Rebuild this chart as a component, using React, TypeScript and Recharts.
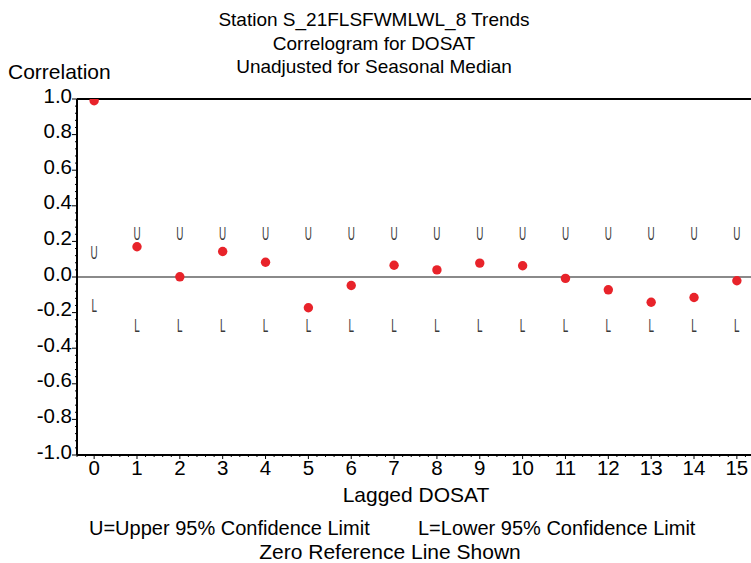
import React from 'react';
import { ScatterChart, Scatter, XAxis, YAxis, ReferenceLine } from 'recharts';

// ---- data ----
const lags = [0, 1, 2, 3, 4, 5, 6, 7, 8, 9, 10, 11, 12, 13, 14, 15];
const correlations = [0.99, 0.17, 0.001, 0.143, 0.083, -0.173, -0.048, 0.066, 0.04, 0.078, 0.063, -0.008, -0.072, -0.142, -0.115, -0.021];
const upperLimits = [0.136, 0.245, 0.245, 0.245, 0.245, 0.245, 0.245, 0.245, 0.245, 0.245, 0.245, 0.245, 0.245, 0.245, 0.245, 0.245];
const lowerLimits = [-0.16, -0.273, -0.273, -0.273, -0.273, -0.273, -0.273, -0.273, -0.273, -0.273, -0.273, -0.273, -0.273, -0.273, -0.273, -0.273];
const yMajorTicks = [-1.0, -0.8, -0.6, -0.4, -0.2, 0.0, 0.2, 0.4, 0.6, 0.8, 1.0];
const xMajorTicks = lags;
const titleLines = ['Station S_21FLSFWMLWL_8 Trends', 'Correlogram for DOSAT', 'Unadjusted for Seasonal Median'];
const yAxisTitle = 'Correlation';
const xAxisTitle = 'Lagged DOSAT';
const footnoteU = 'U=Upper 95% Confidence Limit';
const footnoteL = 'L=Lower 95% Confidence Limit';
const footnote2 = 'Zero Reference Line Shown';

// ---- derived tables ----
const corrData = lags.map((lag, i) => ({ x: lag, y: correlations[i] }));
const upperData = lags.map((lag, i) => ({ x: lag, y: upperLimits[i] }));
const lowerData = lags.map((lag, i) => ({ x: lag, y: lowerLimits[i] }));

// minor ticks every 0.04 (y) and 0.2 (x)
const yTicks: number[] = [];
for (let i = 0; i <= 50; i++) yTicks.push(Math.round((-1 + i * 0.04) * 100) / 100);
const xTicks: number[] = [];
for (let i = 0; i <= 79; i++) xTicks.push(Math.round((-0.4 + i * 0.2) * 10) / 10);

const FONT = '"Liberation Sans", Arial, Helvetica, sans-serif';
const TICK_FS = 20.5;

const isMajorY = (v: number) => yMajorTicks.some((t) => Math.abs(t - v) < 1e-6);
const isMajorX = (v: number) => xMajorTicks.some((t) => Math.abs(t - v) < 1e-6);

const YTick = (props: any) => {
  const { x, y, payload } = props;
  const v = payload.value as number;
  const major = isMajorY(v);
  return (
    <g>
      <line x1={x - (major ? 5 : 2)} x2={x} y1={y} y2={y} stroke="#000" strokeWidth={1} />
      {major && (
        <text x={x - 5} y={y + 3.5} textAnchor="end" fontFamily={FONT} fontSize={TICK_FS} fill="#000">
          {(Math.abs(v) < 1e-9 ? 0 : v).toFixed(1)}
        </text>
      )}
    </g>
  );
};

const XTick = (props: any) => {
  const { x, y, payload } = props;
  const v = payload.value as number;
  const major = isMajorX(v);
  return (
    <g>
      <line x1={x} x2={x} y1={y} y2={y + (major ? 4 : 2)} stroke="#000" strokeWidth={1} />
      {major && (
        <text x={x} y={y + 20} textAnchor="middle" fontFamily={FONT} fontSize={TICK_FS} fill="#000">
          {String(Math.round(v))}
        </text>
      )}
    </g>
  );
};

const DotShape = (props: any) => {
  const { cx, cy } = props;
  if (cx == null || cy == null) return null;
  return <circle cx={cx} cy={cy} r={4.7} fill="#e8232a" />;
};

const letterShape = (letter: string) => (props: any) => {
  const { cx, cy } = props;
  if (cx == null || cy == null) return null;
  return (
    <text
      transform={`translate(${cx},${cy}) scale(0.55,1)`}
      x={0}
      y={6.6}
      textAnchor="middle"
      fontFamily={FONT}
      fontSize={18}
      fill="#3a3a3a"
    >
      {letter}
    </text>
  );
};

const UShape = letterShape('U');
const LShape = letterShape('L');

export default function App() {
  return (
    <div style={{ position: 'absolute', left: 0, top: 0, width: 751, height: 563, overflow: 'hidden', background: '#fff' }}>
      <ScatterChart width={800} height={563} margin={{ top: 99, right: 46, bottom: 0, left: 0 }}>
        <XAxis
          type="number"
          dataKey="x"
          domain={[-0.4, 15.4]}
          ticks={xTicks}
          interval={0}
          height={108}
          tickSize={0}
          tickMargin={0}
          tickLine={false}
          axisLine={{ stroke: '#000', strokeWidth: 2 }}
          tick={<XTick />}
          allowDataOverflow
        />
        <YAxis
          type="number"
          dataKey="y"
          domain={[-1, 1]}
          ticks={yTicks}
          interval={0}
          width={77}
          tickSize={0}
          tickMargin={0}
          tickLine={false}
          axisLine={{ stroke: '#000', strokeWidth: 2 }}
          tick={<YTick />}
          allowDataOverflow
        />
        <ReferenceLine y={0} stroke="#8a8a8a" strokeWidth={2} />
        <ReferenceLine y={1} stroke="#000" strokeWidth={2} />
        <Scatter data={upperData} shape={UShape} isAnimationActive={false} />
        <Scatter data={lowerData} shape={LShape} isAnimationActive={false} />
        <Scatter data={corrData} shape={DotShape} isAnimationActive={false} />
      </ScatterChart>
      <svg
        width={751}
        height={563}
        style={{ position: 'absolute', left: 0, top: 0, pointerEvents: 'none' }}
        fontFamily={FONT}
        fill="#000"
      >
        {titleLines.map((t, i) => (
          <text key={i} x={374} y={26 + i * 23.5} textAnchor="middle" fontSize={19}>
            {t}
          </text>
        ))}
        <text x={8} y={78.5} fontSize={21}>{yAxisTitle}</text>
        <text x={416} y={502} textAnchor="middle" fontSize={21}>{xAxisTitle}</text>
        <text x={89} y={535} fontSize={20}>{footnoteU}</text>
        <text x={418} y={535} fontSize={20}>{footnoteL}</text>
        <text x={390} y={559} textAnchor="middle" fontSize={21}>{footnote2}</text>
      </svg>
    </div>
  );
}
